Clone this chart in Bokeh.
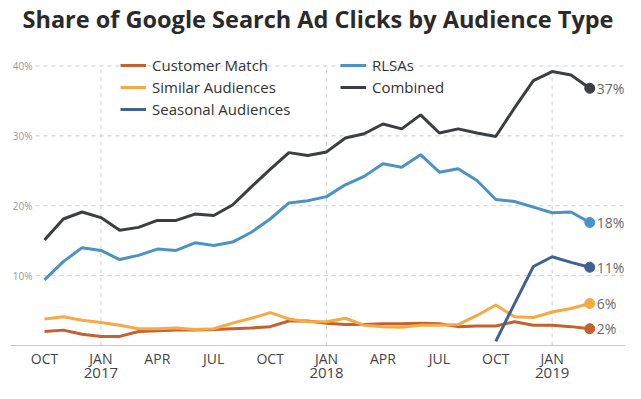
from bokeh.plotting import figure
from bokeh.models import Range1d, LinearAxis, FixedTicker, Legend, LegendItem
from bokeh.core.properties import value
from bokeh.embed import file_html
from bokeh.resources import INLINE

nan = float("nan")

# Months from Oct 2016 (index 0) to Mar 2019 (index 29)
months = list(range(30))

customer_match = [2.0, 2.2, 1.6, 1.3, 1.3, 2.0, 2.1, 2.2, 2.2, 2.3, 2.4, 2.5, 2.7, 3.5, 3.5,
                  3.2, 3.0, 3.0, 3.1, 3.1, 3.2, 3.1, 2.7, 2.8, 2.8, 3.4, 2.9, 2.9, 2.7, 2.4]
similar_aud = [3.8, 4.1, 3.6, 3.3, 2.9, 2.4, 2.4, 2.5, 2.3, 2.4, 3.2, 3.9, 4.7, 3.8, 3.4,
               3.4, 3.9, 2.9, 2.7, 2.6, 2.9, 2.9, 3.0, 4.3, 5.8, 4.1, 4.0, 4.8, 5.3, 6.0]
seasonal_aud = [nan] * 24 + [0.6, 6.0, 11.3, 12.7, 11.9, 11.2]
rlsas = [9.4, 12.0, 14.0, 13.6, 12.3, 12.9, 13.8, 13.6, 14.7, 14.3, 14.8, 16.2, 18.1, 20.4, 20.7,
         21.3, 23.0, 24.2, 26.0, 25.5, 27.3, 24.8, 25.3, 23.6, 20.9, 20.6, 19.8, 19.0, 19.1, 17.6]
combined = [15.1, 18.1, 19.1, 18.3, 16.5, 16.9, 17.9, 17.9, 18.8, 18.6, 20.1, 22.7, 25.2, 27.6, 27.2,
            27.7, 29.7, 30.3, 31.7, 31.0, 33.0, 30.4, 31.0, 30.4, 29.9, 34.0, 37.9, 39.2, 38.7, 36.8]

month_ticks = list(range(0, 30, 3))
month_labels = ["OCT", "JAN", "APR", "JUL"] * 3
year_ticks = [3, 15, 27]
year_labels = ["2017", "2018", "2019"]
y_ticks = [10, 20, 30, 40]
y_labels = ["10%", "20%", "30%", "40%"]

series_names = ["Customer Match", "Similar Audiences", "Seasonal Audiences", "RLSAs", "Combined"]
series_values = [customer_match, similar_aud, seasonal_aud, rlsas, combined]
colors = ["#c4612c", "#f7aa44", "#3f6390", "#4b93c5", "#3b3f42"]

FONT = "Open Sans"
GRID_X0 = -0.48

p = figure(width=625, height=383, output_backend="svg", toolbar_location=None,
           x_range=Range1d(-1.809, 30.90), y_range=Range1d(0, 44.5),
           x_axis_location=None, y_axis_location=None,
           min_border_left=10, min_border_right=0, min_border_top=33, min_border_bottom=38)
p.outline_line_color = None
p.grid.visible = False
p.background_fill_color = "white"

p.title.text = "Share of Google Search Ad Clicks by Audience Type"
p.title.align = "center"
p.title.text_font = FONT
p.title.text_font_size = "23.5px"
p.title.text_font_style = "bold"
p.title.text_color = "#2a2a2a"
p.title.standoff = 0

# horizontal grid
p.segment(x0=[GRID_X0] * len(y_ticks), y0=y_ticks, x1=[p.x_range.end] * len(y_ticks), y1=y_ticks,
          line_color="#cfcfcf", line_width=1, line_dash="4 4")
# vertical grid at January
p.segment(x0=year_ticks, y0=[0] * 3, x1=year_ticks, y1=[max(y_ticks)] * 3,
          line_color="#cfcfcf", line_width=1, line_dash="4 4")
p.text(x=[GRID_X0] * len(y_ticks), y=y_ticks, text=y_labels, text_align="right",
       text_baseline="middle", x_offset=-3, text_font=value(FONT), text_font_size="10px",
       text_color="#999999")

ax1 = LinearAxis(ticker=FixedTicker(ticks=month_ticks),
                 major_label_overrides={t: l for t, l in zip(month_ticks, month_labels)})
ax1.axis_line_color = "#c8c8c8"
ax1.major_tick_line_color = None
ax1.minor_tick_line_color = None
ax1.major_tick_out = 0
ax1.major_tick_in = 0
ax1.minor_tick_out = 0
ax1.major_label_standoff = 3
ax1.major_label_text_font = FONT
ax1.major_label_text_font_size = "14px"
ax1.major_label_text_color = "#444444"
p.add_layout(ax1, "below")

ax2 = LinearAxis(ticker=FixedTicker(ticks=year_ticks),
                 major_label_overrides={t: l for t, l in zip(year_ticks, year_labels)})
ax2.axis_line_color = None
ax2.major_tick_line_color = None
ax2.minor_tick_line_color = None
ax2.major_tick_out = 0
ax2.major_tick_in = 0
ax2.minor_tick_out = 0
ax2.major_label_standoff = -3
ax2.major_label_text_font = FONT
ax2.major_label_text_font_size = "15px"
ax2.major_label_text_color = "#444444"
p.add_layout(ax2, "below")

renderers = []
for vals, c in zip(series_values, colors):
    renderers.append(p.line(months, vals, line_color=c, line_width=3))

last_x = months[-1]
last_vals = [v[-1] for v in series_values]
p.scatter(x=[last_x] * len(last_vals), y=last_vals, size=10, color=colors)
p.text(x=[last_x] * len(last_vals), y=last_vals, text=[f"{v:.0f}%" for v in last_vals],
       x_offset=7, text_baseline="middle", text_font=value(FONT), text_font_size="14px",
       text_color="#6a6a6a")

def make_legend(idx, loc):
    leg = Legend(items=[LegendItem(label=series_names[i], renderers=[renderers[i]]) for i in idx],
                 location=loc)
    leg.label_text_font = FONT
    leg.label_text_font_size = "15px"
    leg.label_text_color = "#333333"
    leg.glyph_width = 26
    leg.glyph_height = 22
    leg.label_height = 22
    leg.spacing = 0
    leg.padding = 0
    leg.margin = 0
    leg.label_standoff = 6
    leg.border_line_color = None
    leg.background_fill_alpha = 0
    return leg

p.add_layout(make_legend([0, 1, 2], (110, 225)))
p.add_layout(make_legend([3, 4], (330, 247)))

open("out.html", "w").write(file_html(p, INLINE))
